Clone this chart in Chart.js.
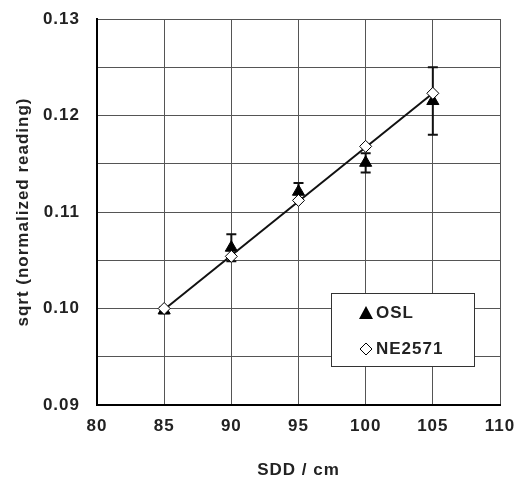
<!DOCTYPE html>
<html>
<head>
<meta charset="utf-8">
<script src="https://cdn.jsdelivr.net/npm/chart.js@4"></script>
<style>
  html, body { margin: 0; padding: 0; background: #fff; }
  #wrap { width: 532px; height: 481px; }
</style>
</head>
<body>
<div id="wrap"><canvas id="sddChart" width="532" height="481"></canvas></div>
<script>
// SDD en cm
var sddValues = [85, 90, 95, 100, 105];
// OSL: valor y barra de error (+/-)
var oslValues = [0.0998, 0.1063, 0.1121, 0.1151, 0.1215];
var oslErrors = [0.0003, 0.0014, 0.0009, 0.0010, 0.0035];
// camara NE2571
var ne2571Values = [0.1000, 0.1054, 0.1112, 0.1168, 0.1223];
// recta de ajuste
var fitX = [85, 105];
var fitY = [0.0999, 0.1223];
// ejes
var xTicks = [80, 85, 90, 95, 100, 105, 110];
var yTicks = [0.09, 0.10, 0.11, 0.12, 0.13];

var FONT = "'Liberation Sans', Arial, sans-serif";
var TXT = "#222";
var FSIZE = 17;

function toPoints(xs, ys) {
    var pts = [];
    for (var i = 0; i < xs.length; i++) pts.push({x: xs[i], y: ys[i]});
    return pts;
}

// Espaciado de letras como en la figura original
var spacing = {
    id: "spacing",
    beforeUpdate: function(chart) { chart.ctx.letterSpacing = "1px"; },
    beforeLayout: function(chart) { chart.ctx.letterSpacing = "1px"; },
    beforeDraw: function(chart) { chart.ctx.letterSpacing = "1px"; }
};

// Dibuja las barras de error de OSL debajo de los marcadores
var errorBars = {
    id: "errorBars",
    beforeDatasetsDraw: function(chart) {
        var ctx = chart.ctx, xs = chart.scales.x, ys = chart.scales.y;
        ctx.save();
        ctx.strokeStyle = "#111";
        ctx.lineWidth = 2;
        for (var i = 0; i < sddValues.length; i++) {
            var px = xs.getPixelForValue(sddValues[i]);
            var top = ys.getPixelForValue(oslValues[i] + oslErrors[i]);
            var bot = ys.getPixelForValue(oslValues[i] - oslErrors[i]);
            ctx.beginPath();
            ctx.moveTo(px, top); ctx.lineTo(px, bot);
            ctx.moveTo(px - 5, top); ctx.lineTo(px + 5, top);
            ctx.moveTo(px - 5, bot); ctx.lineTo(px + 5, bot);
            ctx.stroke();
        }
        ctx.restore();
    }
};

// Leyenda dentro del area del grafico (abajo a la derecha)
var boxLegend = {
    id: "boxLegend",
    afterDatasetsDraw: function(chart) {
        var ctx = chart.ctx, a = chart.chartArea;
        var x0 = a.right - 169, y0 = a.bottom - 112, w = 143, h = 73;
        ctx.save();
        ctx.fillStyle = "#fff";
        ctx.fillRect(x0, y0, w, h);
        ctx.strokeStyle = "#333";
        ctx.lineWidth = 1;
        ctx.strokeRect(x0 + 0.5, y0 + 0.5, w, h);

        // triangulo OSL
        var mx = x0 + 35, my1 = y0 + 20, my2 = y0 + 56;
        ctx.fillStyle = "#000";
        ctx.beginPath();
        ctx.moveTo(mx, my1 - 7); ctx.lineTo(mx + 7, my1 + 6); ctx.lineTo(mx - 7, my1 + 6);
        ctx.closePath(); ctx.fill();
        // rombo NE2571
        ctx.strokeStyle = "#000";
        ctx.beginPath();
        ctx.moveTo(mx, my2 - 6); ctx.lineTo(mx + 6, my2); ctx.lineTo(mx, my2 + 6); ctx.lineTo(mx - 6, my2);
        ctx.closePath(); ctx.stroke();

        ctx.fillStyle = TXT;
        ctx.font = "bold " + FSIZE + "px " + FONT;
        ctx.letterSpacing = "1px";
        ctx.textBaseline = "middle";
        ctx.textAlign = "left";
        ctx.fillText("OSL", x0 + 45, my1);
        ctx.fillText("NE2571", x0 + 45, my2);
        ctx.restore();
    }
};

var chart = new Chart(document.getElementById("sddChart"), {
    type: "scatter",
    data: {
        datasets: [
            {
                label: "NE2571",
                data: toPoints(sddValues, ne2571Values),
                pointStyle: "rectRot",
                pointRadius: 6,
                pointBackgroundColor: "#fff",
                pointBorderColor: "#000",
                pointBorderWidth: 1,
                showLine: false,
                order: 0
            },
            {
                label: "fit",
                data: toPoints(fitX, fitY),
                showLine: true,
                borderColor: "#111",
                borderWidth: 2,
                pointRadius: 0,
                order: 1
            },
            {
                label: "OSL",
                data: toPoints(sddValues, oslValues),
                pointStyle: "triangle",
                pointRadius: 7,
                pointBackgroundColor: "#000",
                pointBorderColor: "#000",
                pointBorderWidth: 1,
                showLine: false,
                order: 2
            }
        ]
    },
    options: {
        responsive: false,
        animation: false,
        layout: { padding: { left: 0, right: 32, top: 19, bottom: 0 } },
        plugins: {
            legend: { display: false },
            tooltip: { enabled: false }
        },
        scales: {
            x: {
                type: "linear",
                min: 80, max: 110,
                afterFit: function(scale) {
                    scale.height = 76;
                    scale.paddingLeft = 0;
                    scale.paddingRight = 0;
                },
                afterBuildTicks: function(scale) {
                    scale.ticks = xTicks.map(function(v) { return {value: v}; });
                },
                grid: { color: "#555", lineWidth: 1, drawTicks: false },
                border: { color: "#000", width: 2 },
                ticks: {
                    padding: 11,
                    color: TXT,
                    font: { family: FONT, size: FSIZE, weight: "bold" },
                    maxRotation: 0
                },
                title: {
                    display: true,
                    text: "SDD / cm",
                    color: TXT,
                    font: { family: FONT, size: FSIZE, weight: "bold" },
                    padding: { top: 0, bottom: 0 }
                }
            },
            y: {
                type: "linear",
                min: 0.09, max: 0.13,
                afterFit: function(scale) {
                    scale.width = 97;
                    scale.paddingTop = 0;
                    scale.paddingBottom = 0;
                },
                afterBuildTicks: function(scale) {
                    // lineas de rejilla cada 0.005, etiqueta cada 0.01
                    var t = [];
                    for (var i = 0; i < yTicks.length; i++) {
                        t.push({value: yTicks[i], major: true});
                        if (i < yTicks.length - 1) t.push({value: (yTicks[i] + yTicks[i + 1]) / 2});
                    }
                    scale.ticks = t;
                },
                grid: { color: "#555", lineWidth: 1, drawTicks: false },
                border: { color: "#000", width: 2 },
                ticks: {
                    padding: 17,
                    color: TXT,
                    font: { family: FONT, size: FSIZE, weight: "bold" },
                    callback: function(value) {
                        for (var i = 0; i < yTicks.length; i++) {
                            if (Math.abs(yTicks[i] - value) < 1e-9) return yTicks[i].toFixed(2);
                        }
                        return "";
                    }
                },
                title: {
                    display: true,
                    text: "sqrt (normalized reading)",
                    color: TXT,
                    font: { family: FONT, size: FSIZE, weight: "bold" },
                    padding: { top: 13, bottom: 0 }
                }
            }
        }
    },
    plugins: [spacing, errorBars, boxLegend]
});
</script>
</body>
</html>
